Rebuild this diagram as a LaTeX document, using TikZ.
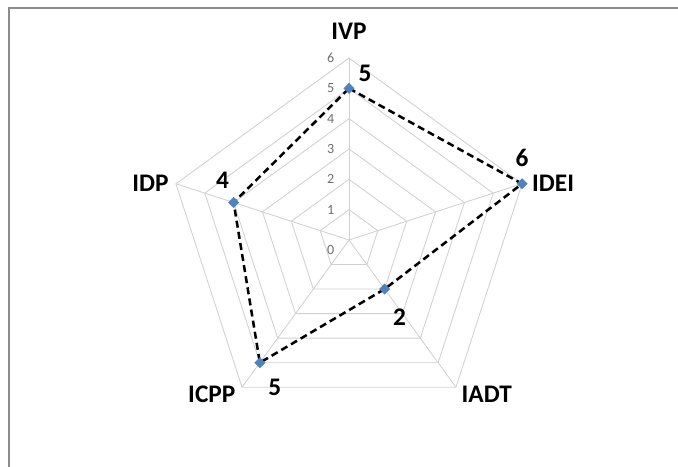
\documentclass[tikz,border=0pt]{standalone}
\usepackage{fontspec}
\setmainfont{Carlito}
\usetikzlibrary{shapes.geometric, positioning, calc}
\usepackage{xcolor}
\definecolor{radargrid}{RGB}{208, 208, 208}
\definecolor{radarmark}{RGB}{79, 129, 189}
\definecolor{radarframe}{RGB}{140, 140, 140}
\definecolor{radartick}{RGB}{110, 110, 110}
\tikzstyle{axislabel} = [font=\fontsize{18}{20}\selectfont\bfseries, inner sep=1pt]
\tikzstyle{value} = [font=\fontsize{18}{20}\selectfont\bfseries, inner sep=1pt]
\tikzstyle{tick} = [font=\fontsize{10}{11}\selectfont, text=radartick, anchor=east, inner sep=1pt]
\tikzstyle{gridline} = [radargrid, line width=0.6pt]
\tikzstyle{series} = [black, line width=1.8pt, dash pattern=on 5pt off 3pt]
\tikzstyle{marker} = [diamond, fill=radarmark, inner sep=0pt, minimum size=8pt]

\begin{document}
\begin{tikzpicture}[x=0.025cm, y=0.025cm]
\useasboundingbox (0,0) rectangle (678,467);
% frame of the screenshot
\draw[radarframe, line width=1pt] (9,0) -- (9,459) -- (678,459);

\begin{scope}[shift={(349,227)}]
% web
\foreach \r in {1,...,6}
    \draw[gridline] (90:{\r*30.33}) -- (18:{\r*30.33}) -- (-54:{\r*30.33}) -- (-126:{\r*30.33}) -- (162:{\r*30.33}) -- cycle;
\foreach \i/\a in {1/90, 2/18, 3/-54, 4/-126, 5/162} {
    \coordinate (v\i) at (\a:182);
    \draw[gridline] (0,0) -- (v\i);
}
\foreach \v in {1,...,6}
    \node[tick] (tick\v) at (-13,{\v*30.33}) {\v};
\node[tick] (tick0) at (-13,-10) {0};

% axis names
\node[axislabel, above=12pt of v1] (ivp) {IVP};
\node[axislabel, right=6pt of v2] (idei) {IDEI};
\node[axislabel, anchor=west] (iadt) at ($(v3)+(4,-7)$) {IADT};
\node[axislabel, anchor=east] (icpp) at ($(v4)+(-5,-7)$) {ICPP};
\node[axislabel, left=4pt of v5] (idp) {IDP};

% series
\foreach \i/\a/\val in {1/90/5, 2/18/6, 3/-54/2, 4/-126/5, 5/162/4}
    \coordinate (p\i) at (\a:{\val*30.33});
\draw[series] (p1) -- (p2) -- (p3) -- (p4) -- (p5) -- cycle;
\foreach \i in {1,...,5}
    \node[marker] (m\i) at (p\i) {};

% values
\node[value] (val1) at ($(p1)+(16,15)$) {5};
\node[value] (val2) at ($(p2)+(0,26)$) {6};
\node[value] (val3) at ($(p3)+(15,-28)$) {2};
\node[value] (val4) at ($(p4)+(15,-25)$) {5};
\node[value] (val5) at ($(p5)+(-11,22)$) {4};
\end{scope}
\end{tikzpicture}
\end{document}
